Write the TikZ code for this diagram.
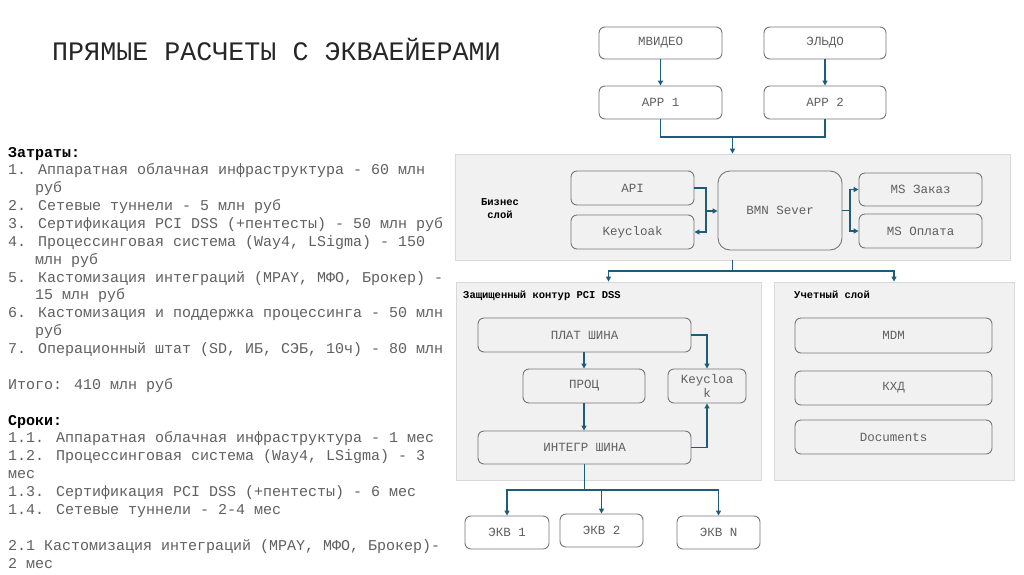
\documentclass[tikz,border=0pt]{standalone}
\usepackage{fontspec}
\setmainfont{Liberation Mono}
\usetikzlibrary{arrows.meta,calc}
\definecolor{arrc}{RGB}{31,92,122}
\definecolor{boxc}{RGB}{118,118,118}
\definecolor{txtc}{RGB}{95,95,95}
\definecolor{panfill}{RGB}{241,241,242}
\definecolor{pandraw}{RGB}{214,216,218}
\definecolor{bodyc}{RGB}{96,96,96}
\tikzset{
  box/.style={draw=boxc, line width=0.9pt, rounded corners=6pt, inner sep=0pt,
    text=txtc, font=\fontsize{12.5}{14}\selectfont, align=center},
  panel/.style={draw=pandraw, fill=panfill, line width=0.8pt, inner sep=0pt},
  arr/.style={draw=arrc, line width=1.3pt, -{Triangle[length=5pt,width=5pt]}},
  lin/.style={draw=arrc, line width=1.3pt},
  plab/.style={font=\fontsize{10.5}{13}\selectfont\bfseries, text=black, inner sep=0pt},
  lt/.style={anchor=base west, inner sep=0pt, font=\fontsize{15}{18}\selectfont, text=bodyc},
  lh/.style={anchor=base west, inner sep=0pt, font=\fontsize{15}{18}\selectfont\bfseries, text=black},
}
\begin{document}
\begin{tikzpicture}[x=1pt,y=-1pt]
\useasboundingbox[fill=white] (0,0) rectangle (1024,574);

% title
\node[anchor=base west, inner sep=0pt, font=\fontsize{26.7}{30}\selectfont, text=black!85] (title) at (52,60) {ПРЯМЫЕ РАСЧЕТЫ С ЭКВАЕЙЕРАМИ};

% left text
\def\ls{17.87}
\node[lh] (l0) at (8,157) {Затраты:};
\node[lt] (l1) at (8,157+1*\ls) {1. Аппаратная облачная инфраструктура - 60 млн};
\node[lt] (l2) at (35,157+2*\ls) {руб};
\node[lt] (l3) at (8,157+3*\ls) {2. Сетевые туннели - 5 млн руб};
\node[lt] (l4) at (8,157+4*\ls) {3. Сертификация PCI DSS (+пентесты) - 50 млн руб};
\node[lt] (l5) at (8,157+5*\ls) {4. Процессинговая система (Way4, LSigma) - 150};
\node[lt] (l6) at (35,157+6*\ls) {млн руб};
\node[lt] (l7) at (8,157+7*\ls) {5. Кастомизация интеграций (MPAY, МФО, Брокер) -};
\node[lt] (l8) at (35,157+8*\ls) {15 млн руб};
\node[lt] (l9) at (8,157+9*\ls) {6. Кастомизация и поддержка процессинга - 50 млн};
\node[lt] (l10) at (35,157+10*\ls) {руб};
\node[lt] (l11) at (8,157+11*\ls) {7. Операционный штат (SD, ИБ, СЭБ, 10ч) - 80 млн};
\node[lt] (l13) at (8,157+13*\ls) {Итого: 410 млн руб};
\node[lh] (l15) at (8,157+15*\ls) {Сроки:};
\node[lt] (l16) at (8,157+16*\ls) {1.1. Аппаратная облачная инфраструктура - 1 мес};
\node[lt] (l17) at (8,157+17*\ls) {1.2. Процессинговая система (Way4, LSigma) - 3};
\node[lt] (l18) at (8,157+18*\ls) {мес};
\node[lt] (l19) at (8,157+19*\ls) {1.3. Сертификация PCI DSS (+пентесты) - 6 мес};
\node[lt] (l20) at (8,157+20*\ls) {1.4. Сетевые туннели - 2-4 мес};
\node[lt] (l22) at (8,157+22*\ls) {2.1 Кастомизация интеграций (MPAY, МФО, Брокер)-};
\node[lt] (l23) at (8,157+23*\ls) {2 мес};

% panels
\node[panel, minimum width=555pt, minimum height=106pt] (biz) at (732.5,207) {};
\node[panel, minimum width=305pt, minimum height=198pt] (pci) at (608.5,381) {};
\node[panel, minimum width=240pt, minimum height=198pt] (acc) at (894,381) {};

\node[plab, align=center] (bizl) at (500,208.5) {Бизнес\\слой};
\node[plab, anchor=west] (pcil) at (463,296) {Защищенный контур PCI DSS};
\node[plab, anchor=west] (accl) at (794,294.5) {Учетный слой};

% top boxes
\node[box, minimum width=123pt, minimum height=32pt] (mvideo) at (660.5,43) {МВИДЕО};
\node[box, minimum width=122pt, minimum height=32pt] (eldo) at (825,43) {ЭЛЬДО};
\node[box, minimum width=123pt, minimum height=33pt] (app1) at (660.5,102.5) {APP 1};
\node[box, minimum width=122pt, minimum height=33pt] (app2) at (825,102.5) {APP 2};

% business layer
\node[box, minimum width=123pt, minimum height=34pt] (api) at (632.5,188) {API};
\node[box, minimum width=123pt, minimum height=34pt] (kc1) at (632.5,232) {Keycloak};
\node[box, rounded corners=12pt, minimum width=124pt, minimum height=79pt] (bmn) at (780,210.5) {BMN Sever};
\node[box, minimum width=123pt, minimum height=33pt] (msz) at (920.5,189.5) {MS Заказ};
\node[box, minimum width=123pt, minimum height=34pt] (mso) at (920.5,231) {MS Оплата};

% PCI
\node[box, minimum width=213pt, minimum height=34pt] (plat) at (584.5,335) {ПЛАТ ШИНА};
\node[box, minimum width=122pt, minimum height=34pt] (proc) at (584,386) {ПРОЦ};
\node[box, minimum width=78pt, minimum height=34pt] (kc2) at (707,386) {Keycloa\\k};
\node[box, minimum width=213pt, minimum height=33pt] (integ) at (584.5,447.5) {ИНТЕГР ШИНА};

% acquirers
\node[box, minimum width=84pt, minimum height=33pt] (ekv1) at (507,532.5) {ЭКВ 1};
\node[box, minimum width=83pt, minimum height=33pt] (ekv2) at (601.5,530.5) {ЭКВ 2};
\node[box, minimum width=83pt, minimum height=33pt] (ekvn) at (718.5,532.5) {ЭКВ N};

% accounting
\node[box, minimum width=197pt, minimum height=35pt] (mdm) at (893.5,335.5) {MDM};
\node[box, minimum width=197pt, minimum height=34pt] (kxd) at (893.5,388) {КХД};
\node[box, minimum width=197pt, minimum height=34pt] (docs) at (893.5,437) {Documents};

% connectors top
\draw[arr] (mvideo) -- (app1);
\draw[arr] (eldo) -- (app2);
\coordinate (j1) at (732.5,137);
\draw[lin] (app1.south) |- (j1) -| (app2.south);
\draw[arr] (j1) -- (biz.north);

% business connectors
\coordinate (ja) at (706,211);
\draw[arr] (api.east) -| (ja) |- (kc1.east);
\draw[arr] (ja) -- (ja -| bmn.west);
\coordinate (jb) at (850,210.5);
\draw[lin] (bmn.east) -- (jb);
\draw[arr] (jb) |- (msz.west);
\draw[arr] (jb) |- (mso.west);

% down to panels
\coordinate (jc) at (732.5,271);
\draw[lin] (biz.south) -- (jc);
\draw[arr] (jc) -| (pci.north);
\draw[arr] (jc) -| (acc.north);

% PCI connectors
\draw[arr] (plat.south -| proc.north) -- (proc.north);
\draw[arr] (proc.south) -- (proc.south |- integ.north);
\draw[arr] (plat.east) -| (kc2.north);
\draw[arr] (integ.east) -| (kc2.south);

% acquirers
\coordinate (jd) at (584.5,490);
\draw[lin] (integ.south) -- (jd);
\draw[arr] (jd) -| (ekv1.north);
\draw[arr] (jd) -| (ekv2.north);
\draw[arr] (jd) -| (ekvn.north);
\end{tikzpicture}
\end{document}
